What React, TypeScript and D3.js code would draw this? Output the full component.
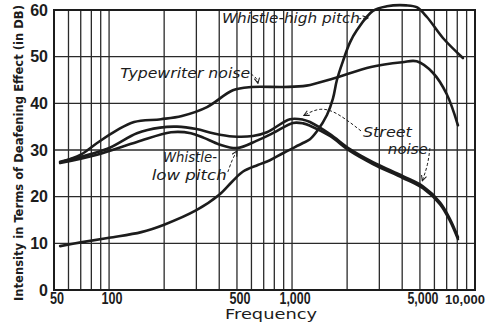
import * as d3 from 'd3';

// curve readings: [frequency Hz, intensity dB]
const whistleHigh: [number, number][] = [
  [54, 9.4], [70, 10.2], [100, 11.2], [150, 12.4], [200, 14], [300, 17.1], [400, 20.4],
  [470, 23.2], [540, 25.4], [650, 26.8], [757, 27.8], [891, 29.3], [1147, 31.5], [1253, 32.3],
  [1368, 34], [1552, 37.5], [1673, 41], [1759, 45], [1897, 49], [2071, 53], [2264, 55.7],
  [2767, 59.8], [3300, 60.8], [4200, 61], [4800, 60.6], [5460, 58.5], [6680, 54], [8590, 49.7],
];
const typewriter: [number, number][] = [
  [54, 27.3], [70, 29], [86, 31.5], [110, 34.2], [137, 36], [192, 36.6], [250, 37.3], [343, 39.2],
  [475, 42.8], [600, 43.5], [900, 43.5], [1200, 43.8], [1700, 45.4], [2700, 47.8], [4000, 48.8],
  [4800, 49], [5900, 46.5], [7000, 42], [8070, 35.3],
];
const streetNoise: [number, number][] = [
  [54, 27.5], [97, 30.2], [142, 33.6], [190, 34.8], [235, 35], [300, 34.5], [370, 33.6],
  [475, 32.9], [611, 33], [729, 33.8], [975, 36.6], [1150, 36.5], [1253, 36], [1611, 33.4],
  [2071, 30.2], [2767, 27.4], [4036, 24.4], [5190, 22.2], [6430, 18.8], [7300, 15.2], [8070, 11.3],
];
const whistleLow: [number, number][] = [
  [54, 27.2], [86, 29], [142, 31.7], [218, 33.8], [280, 33.6], [330, 32.6], [400, 31.2],
  [500, 30.4], [643, 32], [786, 33.6], [1011, 35.8], [1150, 35.7], [1253, 35.2], [1611, 33],
  [2071, 29.8], [2767, 27], [4036, 24], [5190, 21.8], [6430, 18.4], [7300, 14.8], [8070, 10.9],
];

const xTickValues = [50, 100, 500, 1000, 5000, 10000];
const xTickLabels = ['50', '100', '500', '1,000', '5,000', '10,000'];
const yTickValues = [0, 10, 20, 30, 40, 50, 60];

// annotation texts, anchored at [freq, dB]
const notes = [
  { text: 'Whistle-high pitch', at: [414, 57.2], len: 138 },
  { text: 'Typewriter noise', at: [115, 45.4], len: 130 },
  { text: 'Whistle-', at: [197, 27.4], len: 54 },
  { text: 'low pitch', at: [171, 23.6], len: 75 },
  { text: 'Street', at: [2440, 32.8], len: 49 },
  { text: 'noise', at: [3340, 29.1], len: 40 },
];
// dashed leader arrows
const leaders: [number, number][][] = [
  [[2300, 58.1], [2600, 58.3]],
  [[596, 46.3], [643, 45.4], [651, 44.3]],
  [[446, 25.3], [470, 27.9], [500, 29.8]],
  [[2380, 34.1], [1760, 38.1], [1421, 39.2], [1160, 37.4]],
  [[5670, 30.4], [5530, 26.8], [5150, 23.4]],
];

const width = 488;
const height = 324;

export default function App() {
  const x = d3.scaleLog().domain([50, 10000]).range([54, 475]);
  const y = d3.scaleLinear().domain([0, 60]).range([290, 10]);

  const line = d3
    .line<[number, number]>()
    .x((d) => x(d[0]))
    .y((d) => y(d[1]))
    .curve(d3.curveCatmullRom.alpha(0.5));

  const leader = d3
    .line<[number, number]>()
    .x((d) => x(d[0]))
    .y((d) => y(d[1]))
    .curve(d3.curveBasis);

  const ink = '#1c1c1c';
  const gridFreqs = x.ticks();

  return (
    <svg
      width={width}
      height={height}
      style={{ position: 'absolute', left: 0, top: 0, background: '#fff' }}
    >
      <defs>
        <marker id="arr" viewBox="0 0 8 8" refX="7" refY="4" markerWidth="7" markerHeight="7" orient="auto">
          <path d="M1,1 L7,4 L1,7" fill="none" stroke={ink} strokeWidth="1.2" />
        </marker>
      </defs>

      {/* grid */}
      {gridFreqs.map((f) => (
        <line key={'v' + f} x1={x(f)} x2={x(f)} y1={y(60)} y2={y(0)} stroke="#2a2a2a" strokeWidth={1.3} />
      ))}
      {yTickValues.map((v) => (
        <line key={'h' + v} x1={x(50)} x2={x(10000)} y1={y(v)} y2={y(v)} stroke="#2a2a2a" strokeWidth={1.3} />
      ))}
      <rect x={x(50)} y={y(60)} width={x(10000) - x(50)} height={y(0) - y(60)} fill="none" stroke={ink} strokeWidth={2} />

      {/* curves */}
      {[whistleHigh, typewriter, streetNoise, whistleLow].map((s, i) => (
        <path key={i} d={line(s) ?? ''} fill="none" stroke={ink} strokeWidth={2.6} strokeLinecap="round" />
      ))}

      {/* leaders */}
      {leaders.map((p, i) => (
        <path
          key={'l' + i}
          d={leader(p) ?? ''}
          fill="none"
          stroke={ink}
          strokeWidth={1}
          strokeDasharray="3 2"
          markerEnd="url(#arr)"
        />
      ))}

      {/* annotations */}
      {notes.map((n) => (
        <text
          key={n.text}
          x={x(n.at[0])}
          y={y(n.at[1])}
          fontFamily="'DejaVu Sans', sans-serif"
          fontStyle="italic"
          fontSize={13.5}
          fill={ink}
          textLength={n.len}
          lengthAdjust="spacingAndGlyphs"
        >
          {n.text}
        </text>
      ))}

      {/* y ticks */}
      {yTickValues.map((v) => (
        <text
          key={'yt' + v}
          x={48}
          y={y(v)}
          dy="0.36em"
          textAnchor="end"
          fontFamily="'Liberation Sans', Arial, sans-serif"
          fontWeight="bold"
          fontSize={16}
          fill={ink}
        >
          {v}
        </text>
      ))}

      {/* x ticks */}
      {xTickValues.map((f, i) => {
        const last = i === xTickValues.length - 1;
        const label = xTickLabels[i];
        const digits = label.replace(/,/g, '').length;
        const len = digits * 7 + (label.length - digits) * 3;
        return last ? (
          <text
            key={'xt' + f}
            x={x(f) - 10}
            y={304}
            textAnchor="middle"
            fontFamily="'Liberation Sans', Arial, sans-serif"
            fontWeight={600}
            fontSize={13}
            fill={ink}
          >
            {label}
          </text>
        ) : (
          <text
            key={'xt' + f}
            x={x(f) + 3}
            y={304}
            textAnchor="middle"
            fontFamily="'Liberation Sans', Arial, sans-serif"
            fontWeight={600}
            fontSize={16}
            fill={ink}
            textLength={len}
            lengthAdjust="spacingAndGlyphs"
          >
            {label}
          </text>
        );
      })}

      <text
        x={271}
        y={319}
        textAnchor="middle"
        fontFamily="'DejaVu Sans', sans-serif"
        fontSize={14}
        fill={ink}
        textLength={92}
        lengthAdjust="spacingAndGlyphs"
      >
        Frequency
      </text>

      <text
        transform="translate(23,153) rotate(-90)"
        textAnchor="middle"
        fontFamily="'DejaVu Sans Condensed', 'DejaVu Sans', sans-serif"
        fontWeight="bold"
        fontSize={13}
        fill={ink}
        textLength={296}
        lengthAdjust="spacingAndGlyphs"
      >
        Intensity in Terms of Deafening Effect (in DB)
      </text>
    </svg>
  );
}
